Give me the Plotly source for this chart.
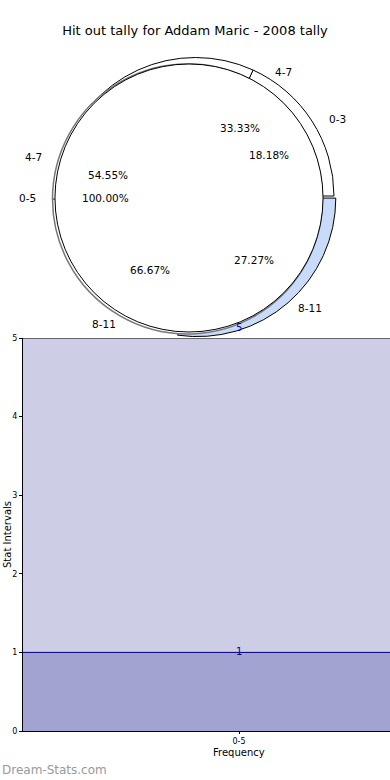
import plotly.graph_objects as go

# ---- data ----
title_text = "Hit out tally for Addam Maric - 2008 tally"
pie_a_labels = ["0-5"]
pie_a_values = [5]
pie_b_labels = ["4-7", "8-11"]
pie_b_values = [1, 2]
pie_c_labels = ["0-3", "4-7", "8-11"]
pie_c_values = [2, 6, 3]

bar_categories = ["0-5"]
bar_max = [5]
bar_values = [1]
y_ticks = [0, 1, 2, 3, 4, 5]

W, H = 390, 780

def px(x):
    return x / W

def py(y):
    return 1 - y / H

def pct(vals):
    s = sum(vals)
    return ["%.2f%%" % (100.0 * v / s) for v in vals]

fig = go.Figure()

# pie C (offset right, behind); first slice ends at 3 o'clock going counterclockwise
rot_c = 90 - 360.0 * pie_c_values[0] / sum(pie_c_values)
pull_c = 0.02
cx, cy, cr = 195.5, 196, 138.5 * (1 + pull_c)
fig.add_trace(go.Pie(
    labels=pie_c_labels, values=pie_c_values, sort=False,
    direction="counterclockwise", rotation=rot_c,
    pull=[0, 0, pull_c],
    marker=dict(colors=["#ffffff", "#ffffff", "#c8dbfb"],
                line=dict(color="#000000", width=1)),
    textinfo="none", hoverinfo="label+percent", showlegend=False,
    domain=dict(x=[px(cx - cr), px(cx + cr)], y=[py(cy + cr), py(cy - cr)]),
))

# pie B (slightly lower-left, behind)
rot_b = 270 - 360.0 * pie_b_values[0] / sum(pie_b_values)
bx, by, br = 187.5, 199, 135
fig.add_trace(go.Pie(
    labels=pie_b_labels, values=pie_b_values, sort=False,
    direction="counterclockwise", rotation=rot_b,
    marker=dict(colors=["#ffffff", "#ffffff"],
                line=dict(color="#777777", width=1.5)),
    textinfo="none", hoverinfo="label+percent", showlegend=False,
    domain=dict(x=[px(bx - br), px(bx + br)], y=[py(by + br), py(by - br)]),
))

# pie A (front, full disc)
ax_, ay_, ar = 189, 198, 134
fig.add_trace(go.Pie(
    labels=pie_a_labels, values=pie_a_values, sort=False,
    marker=dict(colors=["#ffffff"], line=dict(color="#000000", width=1)),
    textinfo="none", hoverinfo="label+percent", showlegend=False,
    domain=dict(x=[px(ax_ - ar), px(ax_ + ar)], y=[py(ay_ + ar), py(ay_ - ar)]),
))

# bar chart area
fig.add_trace(go.Bar(
    x=[0], y=bar_max, width=2,
    marker=dict(color="#cdcde5", line=dict(width=0)),
    showlegend=False, xaxis="x", yaxis="y", hoverinfo="y",
))
fig.add_trace(go.Bar(
    x=[0], y=bar_values, width=2,
    marker=dict(color="#a3a3d1", line=dict(width=0)),
    showlegend=False, xaxis="x", yaxis="y", hoverinfo="y",
))

shapes = [
    dict(type="line", xref="paper", yref="y", x0=px(23), x1=1,
         y0=bar_values[0], y1=bar_values[0], line=dict(color="#00007f", width=1)),
    dict(type="line", xref="paper", yref="y", x0=px(23), x1=1,
         y0=bar_max[0], y1=bar_max[0], line=dict(color="#000000", width=1)),
]

annotations = []
annotations.append(dict(x=0, y=bar_max[0], xref="x", yref="y", text=str(bar_max[0]),
                        showarrow=False, font=dict(color="#0000cc", size=10),
                        yanchor="middle", yshift=11))
annotations.append(dict(x=0, y=bar_values[0], xref="x", yref="y", text=str(bar_values[0]),
                        showarrow=False, font=dict(color="#00007f", size=10),
                        yanchor="middle", yshift=1))

lab_font = dict(family="DejaVu Sans", size=10.5, color="#000000")
pa = pct(pie_a_values)
pb = pct(pie_b_values)
pc = pct(pie_c_values)
text_items = [
    (pie_c_labels[1], 283, 72), (pie_c_labels[0], 337, 119),
    (pb[0], 240, 128), (pc[0], 269, 155),
    (pie_b_labels[0], 33, 157), (pc[1], 108, 175),
    (pie_a_labels[0], 27, 198), (pa[0], 105, 198),
    (pb[1], 150, 270), (pc[2], 254, 260),
    (pie_c_labels[2], 310, 308), (pie_b_labels[1], 104, 324),
]
for t, x, y in text_items:
    annotations.append(dict(x=px(x), y=py(y), xref="paper", yref="paper", text=t,
                            showarrow=False, font=lab_font, xanchor="center", yanchor="middle"))

annotations.append(dict(x=0, y=py(770), xref="paper", yref="paper", text="Dream-Stats.com",
                        showarrow=False, xanchor="left", yanchor="middle",
                        font=dict(family="DejaVu Sans", size=12, color="#999999")))
annotations.append(dict(x=px(7), y=py(535), xref="paper", yref="paper", text="Stat Intervals",
                        showarrow=False, textangle=-90, xanchor="center", yanchor="middle",
                        font=dict(family="DejaVu Sans", size=10, color="#000000")))
annotations.append(dict(x=px(239), y=py(752), xref="paper", yref="paper", text="Frequency",
                        showarrow=False, xanchor="center", yanchor="middle",
                        font=dict(family="DejaVu Sans", size=10, color="#000000")))

fig.update_layout(
    width=W, height=H,
    margin=dict(l=0, r=0, t=0, b=0),
    paper_bgcolor="#ffffff", plot_bgcolor="#ffffff",
    barmode="overlay", bargap=0,
    font=dict(family="DejaVu Sans", color="#000000"),
    title=dict(text=title_text, x=0.5, xanchor="center", y=py(30), yanchor="middle",
               font=dict(family="DejaVu Sans", size=13, color="#000000")),
    xaxis=dict(domain=[px(23), 1], range=[-1, 0.699], tickmode="array",
               tickvals=[0], ticktext=bar_categories,
               showgrid=True, gridcolor="#9999bb", griddash="dot", gridwidth=1,
               zeroline=False, showline=True, linecolor="#000000", linewidth=1,
               ticks="outside", ticklen=2, tickcolor="#000000",
               tickfont=dict(size=8), automargin=False, layer="above traces"),
    yaxis=dict(domain=[py(731), py(338)], range=[0, 5], tickmode="array",
               tickvals=y_ticks, showgrid=True, gridcolor="#9999bb", griddash="dot",
               gridwidth=1, zeroline=False, showline=True, linecolor="#000000",
               linewidth=1, mirror=False, ticks="outside", ticklen=3, tickcolor="#000000",
               tickfont=dict(size=8), automargin=False, layer="above traces"),
    shapes=shapes,
    annotations=annotations,
)

fig.write_html("out.html", config={"displayModeBar": False},
               post_script="document.body.style.margin='0px';")
